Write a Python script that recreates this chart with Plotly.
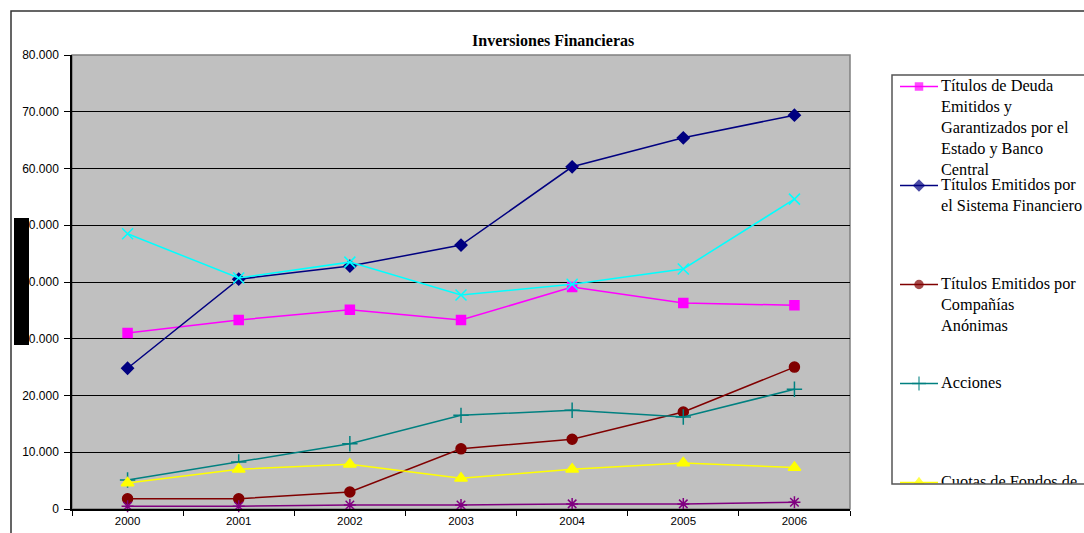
import plotly.graph_objects as go

W, H = 1084, 533

years = ["2000", "2001", "2002", "2003", "2004", "2005", "2006"]

deuda_estado = [31000, 33300, 35100, 33300, 39100, 36300, 35900]
sistema_financiero = [24800, 40500, 42800, 46500, 60300, 65400, 69400]
companias_anonimas = [1800, 1800, 3000, 10600, 12300, 17100, 25000]
acciones = [5100, 8300, 11500, 16500, 17400, 16200, 21100]
cuotas_fondos = [4600, 7000, 7900, 5400, 7000, 8100, 7300]
otros_titulos = [500, 500, 700, 700, 900, 900, 1200]
depositos = [48500, 40700, 43500, 37700, 39600, 42300, 54600]

names = [
    "Títulos de Deuda<br>Emitidos y<br>Garantizados por el<br>Estado y Banco<br>Central",
    "Títulos Emitidos por<br>el Sistema Financiero",
    "Títulos Emitidos por<br>Compañías<br>Anónimas",
    "Acciones",
    "Cuotas de Fondos de<br>Inversión",
    "Otros Títulos",
    "Depósitos a Plazo",
]
series = [deuda_estado, sistema_financiero, companias_anonimas, acciones,
          cuotas_fondos, otros_titulos, depositos]
colors = ["#FF00FF", "#000080", "#800000", "#008080", "#FFFF00", "#800080", "#00FFFF"]
symbols = ["square", "diamond", "circle", "cross-thin-open", "triangle-up",
           "asterisk-open", "x-thin-open"]
msizes = [9, 9, 10, 11, 11, 10, 11]
legend_msizes = [7, 8, 8, 10, 9, 9, 10]

yticks = [0, 10000, 20000, 30000, 40000, 50000, 60000, 70000, 80000]

# pixel layout
PL, PR, PT, PB = 72, 850, 55, 509
LX0, LT, LB = 892, 75, 484

def px(x):
    return x / W

def py(y):
    return 1 - y / H

fig = go.Figure()

for vals, nm, c, s, ms in zip(series, names, colors, symbols, msizes):
    fig.add_trace(go.Scatter(
        x=years, y=vals, name=nm, mode="lines+markers",
        line=dict(color=c, width=1.5),
        marker=dict(symbol=s, size=ms, color=c, line=dict(color=c, width=1.5)),
        showlegend=False, cliponaxis=False,
    ))

# custom legend in its own (hidden) subplot so it can be clipped like the original
row_step = 99
line_h = 21.2
for i, (nm, c, s, ms) in enumerate(zip(names, colors, symbols, legend_msizes)):
    ry = 86.5 + i * row_step
    fig.add_trace(go.Scatter(
        x=[900, 919, 938], y=[ry, ry, ry], mode="lines+markers",
        line=dict(color=c, width=1.5),
        marker=dict(symbol=s, size=[0, ms, 0], color=c, line=dict(color=c, width=1.5)),
        xaxis="x2", yaxis="y2", showlegend=False, hoverinfo="skip", cliponaxis=True,
    ))
    nlines = nm.count("<br>") + 1
    fig.add_trace(go.Scatter(
        x=[941], y=[ry + (nlines - 1) * line_h / 2], mode="text", text=[nm],
        textposition="middle right",
        textfont=dict(family="Liberation Serif", size=16.3, color="#000000"),
        xaxis="x2", yaxis="y2", showlegend=False, hoverinfo="skip", cliponaxis=True,
    ))

shapes = [
    # plot area background
    dict(type="rect", xref="paper", yref="paper", x0=px(PL), x1=px(PR), y0=py(PB), y1=py(PT),
         fillcolor="#C0C0C0", line=dict(color="#808080", width=1.5), layer="below"),
    # outer chart border
    dict(type="rect", xref="paper", yref="paper", x0=px(11), x1=1.2, y0=-0.2, y1=py(11),
         line=dict(color="#333333", width=1.5), fillcolor="rgba(0,0,0,0)", layer="below"),
    # legend box
    dict(type="rect", xref="paper", yref="paper", x0=px(LX0), x1=1.2, y0=py(LB), y1=py(LT),
         line=dict(color="#555555", width=1.5), fillcolor="rgba(0,0,0,0)", layer="above"),
    # black block over the y-axis title area
    dict(type="rect", xref="paper", yref="paper", x0=px(14), x1=px(29), y0=py(345), y1=py(218),
         fillcolor="#000000", line=dict(width=0), layer="above"),
]

fig.update_layout(
    width=W, height=H,
    margin=dict(l=0, r=0, t=0, b=0),
    paper_bgcolor="#FFFFFF",
    plot_bgcolor="rgba(0,0,0,0)",
    separators=",.",
    showlegend=False,
    font=dict(family="Liberation Sans", size=12, color="#000000"),
    xaxis=dict(
        domain=[px(PL), px(PR)], type="category", categoryorder="array", categoryarray=years,
        range=[-0.5, 6.5], showgrid=False, zeroline=False,
        showline=True, linecolor="#000000", linewidth=1.5,
        ticks="outside", tickson="boundaries", ticklen=5, tickcolor="#000000", tickwidth=1,
        tickfont=dict(family="Liberation Sans", size=11.5, color="#000000"),
        automargin=False, fixedrange=True,
    ),
    yaxis=dict(
        domain=[py(PB), py(PT)], range=[0, 80000], tickvals=yticks, tickformat=",d",
        showgrid=True, gridcolor="#000000", gridwidth=1, zeroline=False,
        showline=True, linecolor="#000000", linewidth=1.5,
        ticks="outside", ticklen=6, tickcolor="#000000", tickwidth=1,
        tickfont=dict(family="Liberation Sans", size=12, color="#000000"),
        ticklabelstandoff=3,
        automargin=False, fixedrange=True,
    ),
    xaxis2=dict(domain=[px(LX0), 1], range=[LX0, W], visible=False, fixedrange=True,
                anchor="y2"),
    yaxis2=dict(domain=[py(LB), py(LT)], range=[LB, LT], visible=False, fixedrange=True,
                anchor="x2"),
    shapes=shapes,
    annotations=[dict(
        text="<b>Inversiones Financieras</b>", xref="paper", yref="paper",
        x=px(553), y=py(40), xanchor="center", yanchor="middle", showarrow=False,
        font=dict(family="Liberation Serif", size=16, color="#000000"),
    )],
)

fig.write_html(
    "out.html",
    config={"displayModeBar": False},
    post_script="document.body.style.margin='0';document.body.style.overflow='hidden';",
)
